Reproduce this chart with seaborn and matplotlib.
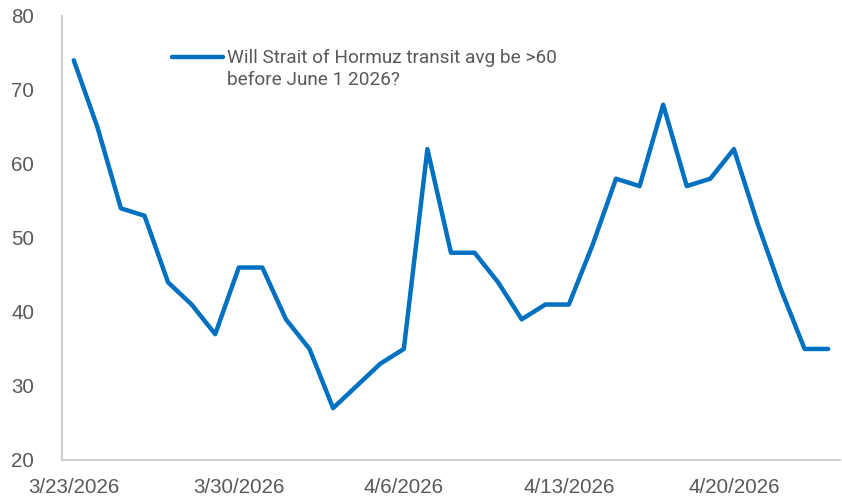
import pandas as pd
import numpy as np
import matplotlib
matplotlib.use('Agg')
import matplotlib.pyplot as plt
import matplotlib.dates as mdates
from matplotlib.legend_handler import HandlerLine2D
import seaborn as sns

# daily values
dates = pd.date_range('2026-03-23', '2026-04-24', freq='D')
values = [74, 65, 54, 53, 44, 41, 37, 46, 46, 39, 35, 27, 30, 33, 35, 62,
          48, 48, 44, 39, 41, 41, 49, 58, 57, 68, 57, 58, 62, 52, 43, 35, 35]
series_name = 'Will Strait of Hormuz transit avg be >60\nbefore June 1 2026?'
tick_dates = pd.to_datetime(['2026-03-23', '2026-03-30', '2026-04-06', '2026-04-13', '2026-04-20'])
y_ticks = [20, 30, 40, 50, 60, 70, 80]

df = pd.DataFrame({'date': dates, 'value': values})


# legend handle sits on the first text line, like Excel does
class TopLineHandler(HandlerLine2D):
    def create_artists(self, legend, orig_handle, xdescent, ydescent,
                       width, height, fontsize, trans):
        artists = super().create_artists(legend, orig_handle, xdescent, ydescent,
                                         width, height, fontsize, trans)
        for a in artists:
            a.set_ydata(np.asarray(a.get_ydata()) + height * 0.95)
        return artists


sns.set_style('white')
plt.rcParams['font.family'] = ['Liberation Sans', 'DejaVu Sans']

fig = plt.figure(figsize=(8.42, 4.99), dpi=100)
ax = fig.add_axes([0.0736, 0.0782, 0.924, 0.890])

sns.lineplot(data=df, x='date', y='value', ax=ax, color='#0070C0',
             linewidth=3.2, label=series_name)

ax.set_xlim(dates[0] - pd.Timedelta(hours=12), dates[-1] + pd.Timedelta(hours=12))
ax.set_ylim(20, 80)
ax.set_yticks(y_ticks)
ax.set_xticks(tick_dates)
ax.xaxis.set_major_formatter(
    plt.FuncFormatter(lambda v, p: '{d.month}/{d.day}/{d.year}'.format(d=mdates.num2date(v))))
ax.set_xlabel('')
ax.set_ylabel('')
ax.tick_params(axis='both', length=0, labelsize=14.8, labelcolor='#595959')
ax.tick_params(axis='y', pad=20)
ax.tick_params(axis='x', pad=13)

for side in ['top', 'right']:
    ax.spines[side].set_visible(False)
for side in ['left', 'bottom']:
    ax.spines[side].set_color('#D0D0D0')
    ax.spines[side].set_linewidth(1.5)

handles, labels = ax.get_legend_handles_labels()
leg = ax.legend(handles, labels, loc='upper left', bbox_to_anchor=(0.131, 0.942),
                frameon=False, handlelength=2.7, handletextpad=0.2, borderaxespad=0,
                handler_map={handles[0]: TopLineHandler()},
                prop={'family': 'Roboto', 'size': 13.7})
for t in leg.get_texts():
    t.set_color('#595959')
    t.set_linespacing(1.25)

fig.savefig('out.png', dpi=100)
